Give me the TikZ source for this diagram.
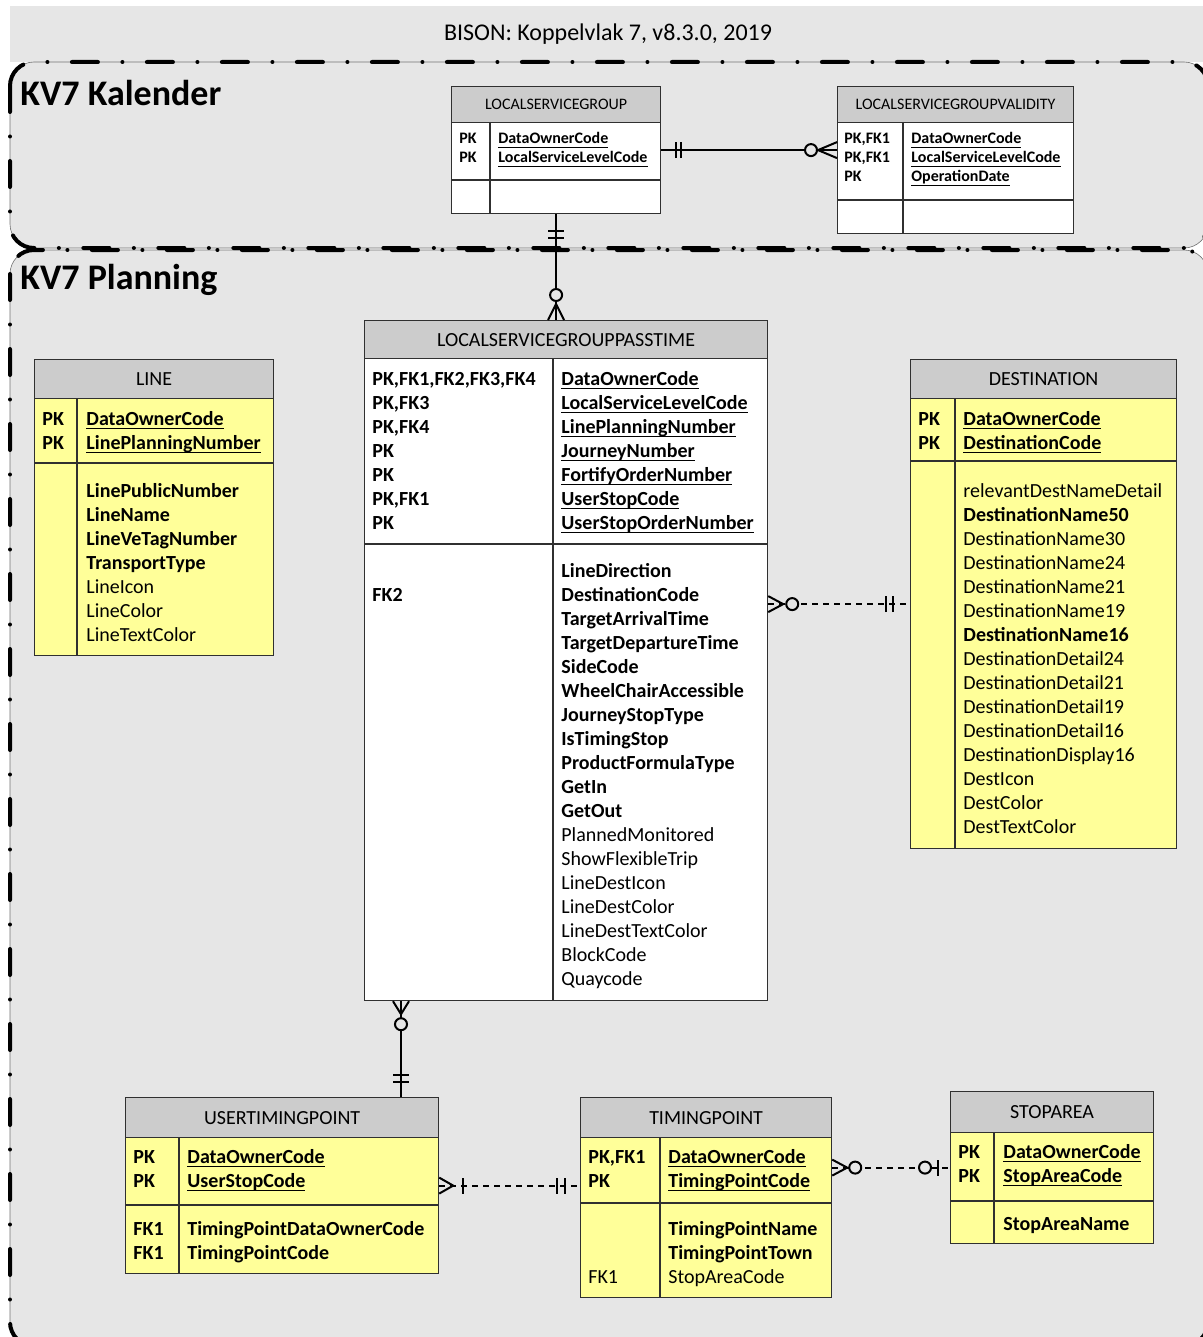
\documentclass[tikz,border=0pt]{standalone}
\usepackage{fontspec}
\setmainfont{Carlito}
\usetikzlibrary{positioning,decorations.markings}

\definecolor{bg}{HTML}{E6E6E6}
\definecolor{hdrgray}{HTML}{CCCCCC}
\definecolor{ylw}{HTML}{FFFF99}
\definecolor{rim}{HTML}{303030}
\newcommand\ukey[1]{\setbox0\hbox{#1}\rlap{\vrule width \wd0 height -1.3pt depth 1.9pt}\box0}

\begin{document}
\begin{tikzpicture}[x=0.5pt,y=-0.5pt,
  tbl/.style={draw=rim,line width=0.6pt,anchor=north west,inner sep=0pt},
  hdr/.style={tbl,fill=hdrgray,font=\fontsize{10}{12}\selectfont},
  sep/.style={draw=rim,line width=0.6pt},
  fld/.style={anchor=base west,inner sep=0pt,font=\fontsize{10}{12}\selectfont},
  sfld/.style={fld,font=\fontsize{8}{9.5}\selectfont\bfseries},
  zone/.style={rounded corners=12pt,line width=2pt,line cap=round,dash pattern=on 13pt off 12.25pt on 0pt off 12.25pt},
  zonethin/.style={rounded corners=12pt,line width=0.3pt,draw=black!55},
  zonelbl/.style={anchor=west,inner sep=0pt,font=\fontsize{18}{21}\selectfont\bfseries},
  rel/.style={line width=1pt},
  opt/.style={rel,dash pattern=on 3pt off 2.5pt},
  bar/.style={postaction={decorate,decoration={markings,
    mark=at position #1 with {\draw[solid,line width=1pt] (0,-4pt) -- (0,4pt);}}}},
  ring/.style={postaction={decorate,decoration={markings,
    mark=at position #1 with {\draw[solid,line width=1pt,fill=bg] (0,0) circle (3pt);}}}},
  crowstart/.style={postaction={decorate,decoration={markings,
    mark=at position #1 with {\draw[solid,line width=1pt] (-#1,4pt) -- (0,0) -- (-#1,-4pt);}}}},
  crowend/.style={postaction={decorate,decoration={markings,
    mark=at position -#1 with {\draw[solid,line width=1pt] (#1,4pt) -- (0,0) -- (#1,-4pt);}}}}]

\useasboundingbox (0,0) rectangle (1203,1337);
\clip (0,0) rectangle (1203,1337);
\fill[white] (0,0) rectangle (1203,1337);

% zones
\fill[bg] (10,6) rectangle (1203,62);
\node[font=\fontsize{12}{14}\selectfont] (title) at (608,34) {BISON: Koppelvlak 7, v8.3.0, 2019};
\fill[bg,rounded corners=12pt] (10,62) rectangle (1208,248);
\fill[bg,rounded corners=12pt] (10,250) rectangle (1208,1346);
\draw[zonethin] (10,62) rectangle (1208,248);
\draw[zonethin] (10,250) rectangle (1208,1346);
\draw[zone] (10,62) rectangle (1208,248);
\draw[zone] (10,250) rectangle (1208,1346);
\node[zonelbl] (kal) at (20,93) {KV7 Kalender};
\node[zonelbl] (plan) at (20,280) {KV7 Planning};

% LOCALSERVICEGROUP
\node[tbl,fill=white,minimum width=104.5pt,minimum height=63.5pt] (LSG) at (451,86) {};
\node[hdr,minimum width=104.5pt,minimum height=18pt,font=\fontsize{8}{9.5}\selectfont] (LSG-h) at (LSG.north west) {LOCALSERVICEGROUP};
\draw[sep] (451,180) -- (660,180) (490,122) -- (490,213);
\foreach \k/\n [count=\i from 0] in {PK/DataOwnerCode,PK/LocalServiceLevelCode}{
  \node[sfld] (LSG-k\i) at (459,144+19*\i) {\k};
  \node[sfld] (LSG-n\i) at (498,144+19*\i) {\ukey{\n}};}

% LOCALSERVICEGROUPVALIDITY
\node[tbl,fill=white,minimum width=118pt,minimum height=73.5pt] (LSGV) at (837,86) {};
\node[hdr,minimum width=118pt,minimum height=18pt,font=\fontsize{8}{9.5}\selectfont] (LSGV-h) at (LSGV.north west) {LOCALSERVICEGROUPVALIDITY};
\draw[sep] (837,200) -- (1073,200) (903,122) -- (903,233);
\foreach \k/\n [count=\i from 0] in {{PK,FK1}/DataOwnerCode,{PK,FK1}/LocalServiceLevelCode,PK/OperationDate}{
  \node[sfld] (LSGV-k\i) at (844,144+19*\i) {\k};
  \node[sfld] (LSGV-n\i) at (911,144+19*\i) {\ukey{\n}};}

% LOCALSERVICEGROUPPASSTIME
\node[tbl,fill=white,minimum width=201.5pt,minimum height=340pt] (LSGPT) at (364,320) {};
\node[hdr,minimum width=201.5pt,minimum height=19pt] (LSGPT-h) at (LSGPT.north west) {LOCALSERVICEGROUPPASSTIME};
\draw[sep] (364,544) -- (767,544) (553,358) -- (553,1000);
\foreach \k/\n [count=\i from 0] in {{PK,FK1,FK2,FK3,FK4}/DataOwnerCode,{PK,FK3}/LocalServiceLevelCode,
    {PK,FK4}/LinePlanningNumber,PK/JourneyNumber,PK/FortifyOrderNumber,{PK,FK1}/UserStopCode,PK/UserStopOrderNumber}{
  \node[fld,font=\fontsize{10}{12}\selectfont\bfseries] (LSGPT-k\i) at (372,385+24*\i) {\k};
  \node[fld,font=\fontsize{10}{12}\selectfont\bfseries] (LSGPT-n\i) at (561,385+24*\i) {\ukey{\n}};}
\node[fld,font=\fontsize{10}{12}\selectfont\bfseries] (LSGPT-fk) at (372,601) {FK2};
\foreach \n [count=\i from 0] in {LineDirection,DestinationCode,TargetArrivalTime,TargetDepartureTime,SideCode,
    WheelChairAccessible,JourneyStopType,IsTimingStop,ProductFormulaType,GetIn,GetOut}
  \node[fld,font=\fontsize{10}{12}\selectfont\bfseries] (LSGPT-a\i) at (561,577+24*\i) {\n};
\foreach \n [count=\i from 11] in {PlannedMonitored,ShowFlexibleTrip,LineDestIcon,LineDestColor,
    LineDestTextColor,BlockCode,Quaycode}
  \node[fld] (LSGPT-a\i) at (561,577+24*\i) {\n};

% LINE
\node[tbl,fill=ylw,minimum width=119.5pt,minimum height=148pt] (LINE) at (34,359) {};
\node[hdr,minimum width=119.5pt,minimum height=19.5pt] (LINE-h) at (LINE.north west) {LINE};
\draw[sep] (34,463) -- (273,463) (77,398) -- (77,655);
\foreach \k/\n [count=\i from 0] in {PK/DataOwnerCode,PK/LinePlanningNumber}{
  \node[fld,font=\fontsize{10}{12}\selectfont\bfseries] (LINE-k\i) at (42,425+24*\i) {\k};
  \node[fld,font=\fontsize{10}{12}\selectfont\bfseries] (LINE-n\i) at (86,425+24*\i) {\ukey{\n}};}
\foreach \n [count=\i from 0] in {\textbf{LinePublicNumber},\textbf{LineName},\textbf{LineVeTagNumber},
    \textbf{TransportType},LineIcon,LineColor,LineTextColor}
  \node[fld] (LINE-a\i) at (86,497+24*\i) {\n};

% DESTINATION
\node[tbl,fill=ylw,minimum width=133pt,minimum height=244.5pt] (DEST) at (910,359) {};
\node[hdr,minimum width=133pt,minimum height=19.5pt] (DEST-h) at (DEST.north west) {DESTINATION};
\draw[sep] (910,461) -- (1176,461) (955,398) -- (955,848);
\foreach \k/\n [count=\i from 0] in {PK/DataOwnerCode,PK/DestinationCode}{
  \node[fld,font=\fontsize{10}{12}\selectfont\bfseries] (DEST-k\i) at (918,425+24*\i) {\k};
  \node[fld,font=\fontsize{10}{12}\selectfont\bfseries] (DEST-n\i) at (963,425+24*\i) {\ukey{\n}};}
\foreach \n [count=\i from 0] in {relevantDestNameDetail,\textbf{DestinationName50},DestinationName30,
    DestinationName24,DestinationName21,DestinationName19,\textbf{DestinationName16},DestinationDetail24,
    DestinationDetail21,DestinationDetail19,DestinationDetail16,DestinationDisplay16,DestIcon,DestColor,DestTextColor}
  \node[fld] (DEST-a\i) at (963,497+24*\i) {\n};

% USERTIMINGPOINT
\node[tbl,fill=ylw,minimum width=156.5pt,minimum height=88pt] (UTP) at (125,1097) {};
\node[hdr,minimum width=156.5pt,minimum height=20pt] (UTP-h) at (UTP.north west) {USERTIMINGPOINT};
\draw[sep] (125,1205) -- (438,1205) (179,1137) -- (179,1273);
\foreach \k/\n [count=\i from 0] in {PK/DataOwnerCode,PK/UserStopCode}{
  \node[fld,font=\fontsize{10}{12}\selectfont\bfseries] (UTP-k\i) at (133,1163+24*\i) {\k};
  \node[fld,font=\fontsize{10}{12}\selectfont\bfseries] (UTP-n\i) at (187,1163+24*\i) {\ukey{\n}};}
\foreach \k/\n [count=\i from 0] in {FK1/TimingPointDataOwnerCode,FK1/TimingPointCode}{
  \node[fld,font=\fontsize{10}{12}\selectfont\bfseries] (UTP-f\i) at (133,1235+24*\i) {\k};
  \node[fld,font=\fontsize{10}{12}\selectfont\bfseries] (UTP-a\i) at (187,1235+24*\i) {\n};}

% TIMINGPOINT
\node[tbl,fill=ylw,minimum width=125.5pt,minimum height=100pt] (TP) at (580,1097) {};
\node[hdr,minimum width=125.5pt,minimum height=20pt] (TP-h) at (TP.north west) {TIMINGPOINT};
\draw[sep] (580,1203) -- (831,1203) (660,1137) -- (660,1297);
\foreach \k/\n [count=\i from 0] in {{PK,FK1}/DataOwnerCode,PK/TimingPointCode}{
  \node[fld,font=\fontsize{10}{12}\selectfont\bfseries] (TP-k\i) at (588,1163+24*\i) {\k};
  \node[fld,font=\fontsize{10}{12}\selectfont\bfseries] (TP-n\i) at (668,1163+24*\i) {\ukey{\n}};}
\foreach \n [count=\i from 0] in {\textbf{TimingPointName},\textbf{TimingPointTown},StopAreaCode}
  \node[fld] (TP-a\i) at (668,1235+24*\i) {\n};
\node[fld] (TP-fk) at (588,1283) {FK1};

% STOPAREA
\node[tbl,fill=ylw,minimum width=101.5pt,minimum height=76pt] (SA) at (950,1091) {};
\node[hdr,minimum width=101.5pt,minimum height=20.5pt] (SA-h) at (SA.north west) {STOPAREA};
\draw[sep] (950,1201) -- (1153,1201) (994,1132) -- (994,1243);
\foreach \k/\n [count=\i from 0] in {PK/DataOwnerCode,PK/StopAreaCode}{
  \node[fld,font=\fontsize{10}{12}\selectfont\bfseries] (SA-k\i) at (958,1158+24*\i) {\k};
  \node[fld,font=\fontsize{10}{12}\selectfont\bfseries] (SA-n\i) at (1003,1158+24*\i) {\ukey{\n}};}
\node[fld,font=\fontsize{10}{12}\selectfont\bfseries] (SA-a0) at (1003,1230) {StopAreaName};

% relations
\coordinate (UTPtop) at (401,1097);
\draw[rel,bar=7.5pt,bar=10pt,ring=-13pt,crowend=9.5pt] (LSG.east) -- (LSG.east -| LSGV.west);
\draw[rel,bar=8.5pt,bar=12pt,ring=-12.5pt,crowend=8pt] (LSG.south) -- (LSG.south |- LSGPT.north);
\draw[opt,crowstart=7.5pt,ring=12pt,bar=-8.5pt,bar=-12pt] (LSGPT.east |- DEST.west) -- (DEST.west);
\draw[rel,crowstart=6.5pt,ring=11.5pt,bar=-7.5pt,bar=-11pt] (UTPtop |- LSGPT.south) -- (UTPtop);
\draw[opt,crowstart=7pt,bar=12pt,bar=-7.5pt,bar=-11.5pt] (UTP.east) -- (UTP.east -| TP.west);
\draw[opt,crowstart=7.5pt,ring=11.5pt,ring=-12.5pt,bar=-6pt] (TP.east |- SA.west) -- (SA.west);
\end{tikzpicture}
\end{document}
